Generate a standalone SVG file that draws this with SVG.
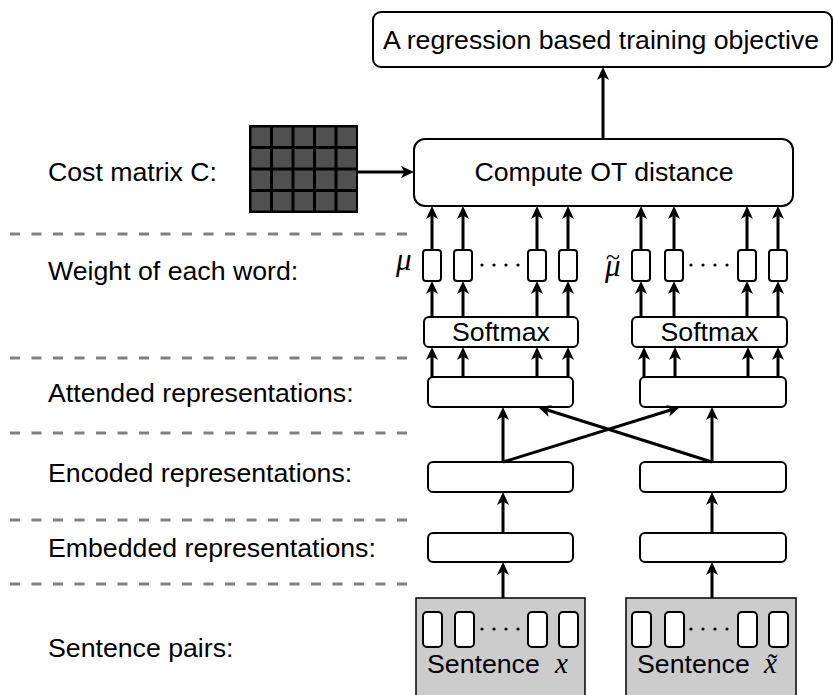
<svg xmlns="http://www.w3.org/2000/svg" width="834" height="695" viewBox="0 0 834 695">
<style>
.t{font-family:"Liberation Sans",Arial,sans-serif;font-size:26.7px;fill:#000}
.m{font-family:"Liberation Serif","DejaVu Serif",serif;font-style:italic;fill:#000}
.box{fill:#fff;stroke:#000;stroke-width:2}
.dash{stroke:#808080;stroke-width:3;stroke-dasharray:10 11.5;fill:none}
.c{stroke:#000;stroke-width:3;fill:none;marker-end:url(#ah)}
.cell{fill:#505050}
</style>
<defs>
<marker id="ah" markerUnits="userSpaceOnUse" markerWidth="13" markerHeight="12" refX="9" refY="6" orient="auto">
<path d="M0,0 L13,6 L0,12 L3.5,6 Z" fill="#000"/>
</marker>
</defs>
<rect width="834" height="695" fill="#fff"/>

<g id="separators">
<line class="dash" x1="10" y1="234" x2="415" y2="234"/>
<line class="dash" x1="10" y1="358" x2="415" y2="358"/>
<line class="dash" x1="10" y1="433" x2="415" y2="433"/>
<line class="dash" x1="10" y1="520" x2="415" y2="520"/>
<line class="dash" x1="10" y1="584" x2="415" y2="584"/>
</g>

<g id="labels">
<text class="t" x="48" y="181">Cost matrix C:</text>
<text class="t" x="48" y="280">Weight of each word:</text>
<text class="t" x="48" y="402">Attended representations:</text>
<text class="t" x="48" y="482">Encoded representations:</text>
<text class="t" x="48" y="557">Embedded representations:</text>
<text class="t" x="48" y="657">Sentence pairs:</text>
</g>

<g id="objective">
<rect class="box" x="373" y="12" width="459" height="55" rx="8"/>
<text class="t" x="601" y="49" text-anchor="middle">A regression based training objective</text>
</g>

<g id="ot">
<rect class="box" x="414" y="139" width="379" height="67" rx="11"/>
<text class="t" x="604" y="181" text-anchor="middle">Compute OT distance</text>
</g>

<g id="cost-matrix">
<rect x="249" y="125" width="109" height="88" fill="#000"/>
<g>
<rect class="cell" x="251.5" y="127.5" width="18.5" height="18.5"/><rect class="cell" x="273" y="127.5" width="18.5" height="18.5"/><rect class="cell" x="294.5" y="127.5" width="18.5" height="18.5"/><rect class="cell" x="316" y="127.5" width="18.5" height="18.5"/><rect class="cell" x="337.5" y="127.5" width="18.5" height="18.5"/>
<rect class="cell" x="251.5" y="149" width="18.5" height="18.5"/><rect class="cell" x="273" y="149" width="18.5" height="18.5"/><rect class="cell" x="294.5" y="149" width="18.5" height="18.5"/><rect class="cell" x="316" y="149" width="18.5" height="18.5"/><rect class="cell" x="337.5" y="149" width="18.5" height="18.5"/>
<rect class="cell" x="251.5" y="170.5" width="18.5" height="18.5"/><rect class="cell" x="273" y="170.5" width="18.5" height="18.5"/><rect class="cell" x="294.5" y="170.5" width="18.5" height="18.5"/><rect class="cell" x="316" y="170.5" width="18.5" height="18.5"/><rect class="cell" x="337.5" y="170.5" width="18.5" height="18.5"/>
<rect class="cell" x="251.5" y="192" width="18.5" height="18.5"/><rect class="cell" x="273" y="192" width="18.5" height="18.5"/><rect class="cell" x="294.5" y="192" width="18.5" height="18.5"/><rect class="cell" x="316" y="192" width="18.5" height="18.5"/><rect class="cell" x="337.5" y="192" width="18.5" height="18.5"/>
</g>
</g>

<g id="weights-left">
<text class="m" x="396" y="270" font-size="31">μ</text>
<rect class="box" x="423" y="250" width="18" height="31" rx="3"/>
<rect class="box" x="454" y="250" width="18" height="31" rx="3"/>
<rect class="box" x="528" y="250" width="18" height="31" rx="3"/>
<rect class="box" x="559" y="250" width="18" height="31" rx="3"/>
<g fill="#000"><circle cx="482" cy="265" r="1.6"/><circle cx="494" cy="265" r="1.6"/><circle cx="506" cy="265" r="1.6"/><circle cx="518" cy="265" r="1.6"/></g>
</g>

<g id="weights-right">
<text class="m" x="605" y="276" font-size="31">μ<tspan dx="-15" dy="-11" font-size="26">~</tspan></text>
<rect class="box" x="632" y="250" width="18" height="31" rx="3"/>
<rect class="box" x="665" y="250" width="18" height="31" rx="3"/>
<rect class="box" x="738" y="250" width="18" height="31" rx="3"/>
<rect class="box" x="769" y="250" width="18" height="31" rx="3"/>
<g fill="#000"><circle cx="691" cy="265" r="1.6"/><circle cx="703" cy="265" r="1.6"/><circle cx="715" cy="265" r="1.6"/><circle cx="727" cy="265" r="1.6"/></g>
</g>

<g id="softmax-left">
<rect class="box" x="424" y="317" width="154" height="30" rx="5"/>
<text class="t" x="501" y="341" text-anchor="middle">Softmax</text>
</g>
<g id="softmax-right">
<rect class="box" x="632" y="317" width="155" height="30" rx="5"/>
<text class="t" x="709.5" y="341" text-anchor="middle">Softmax</text>
</g>

<g id="attended-left"><rect class="box" x="428" y="377" width="145" height="30" rx="5"/></g>
<g id="attended-right"><rect class="box" x="640" y="377" width="146" height="30" rx="5"/></g>
<g id="encoded-left"><rect class="box" x="428" y="462" width="145" height="30" rx="5"/></g>
<g id="encoded-right"><rect class="box" x="640" y="462" width="146" height="30" rx="5"/></g>
<g id="embedded-left"><rect class="box" x="428" y="533" width="145" height="29" rx="5"/></g>
<g id="embedded-right"><rect class="box" x="640" y="533" width="146" height="29" rx="5"/></g>

<g id="sentence-left">
<rect x="416" y="598" width="169" height="110" fill="#cccccc" stroke="#000" stroke-width="1.5"/>
<rect class="box" x="423" y="612" width="19" height="35" rx="4"/>
<rect class="box" x="455" y="612" width="19" height="35" rx="4"/>
<rect class="box" x="528" y="612" width="19" height="35" rx="4"/>
<rect class="box" x="559" y="612" width="19" height="35" rx="4"/>
<g fill="#000"><circle cx="482" cy="629" r="1.6"/><circle cx="494" cy="629" r="1.6"/><circle cx="506" cy="629" r="1.6"/><circle cx="518" cy="629" r="1.6"/></g>
<text class="t" x="427" y="673">Sentence</text>
<text class="m" x="555" y="673" font-size="29">x</text>
</g>

<g id="sentence-right">
<rect x="626" y="598" width="170" height="110" fill="#cccccc" stroke="#000" stroke-width="1.5"/>
<rect class="box" x="632" y="612" width="19" height="35" rx="4"/>
<rect class="box" x="665" y="612" width="19" height="35" rx="4"/>
<rect class="box" x="738" y="612" width="19" height="35" rx="4"/>
<rect class="box" x="769" y="612" width="19" height="35" rx="4"/>
<g fill="#000"><circle cx="691" cy="629" r="1.6"/><circle cx="703" cy="629" r="1.6"/><circle cx="715" cy="629" r="1.6"/><circle cx="727" cy="629" r="1.6"/></g>
<text class="t" x="637" y="673">Sentence</text>
<text class="m" x="764" y="673" font-size="29">x̃</text>
</g>

<g id="connectors">
<line class="c" x1="603" y1="139" x2="603" y2="71"/>
<line class="c" x1="358" y1="172" x2="410" y2="172"/>
<line class="c" x1="432" y1="250" x2="432" y2="210"/>
<line class="c" x1="463" y1="250" x2="463" y2="210"/>
<line class="c" x1="537" y1="250" x2="537" y2="210"/>
<line class="c" x1="568" y1="250" x2="568" y2="210"/>
<line class="c" x1="641" y1="250" x2="641" y2="210"/>
<line class="c" x1="674" y1="250" x2="674" y2="210"/>
<line class="c" x1="747" y1="250" x2="747" y2="210"/>
<line class="c" x1="778" y1="250" x2="778" y2="210"/>
<line class="c" x1="432" y1="317" x2="432" y2="285"/>
<line class="c" x1="463" y1="317" x2="463" y2="285"/>
<line class="c" x1="537" y1="317" x2="537" y2="285"/>
<line class="c" x1="568" y1="317" x2="568" y2="285"/>
<line class="c" x1="641" y1="317" x2="641" y2="285"/>
<line class="c" x1="674" y1="317" x2="674" y2="285"/>
<line class="c" x1="747" y1="317" x2="747" y2="285"/>
<line class="c" x1="778" y1="317" x2="778" y2="285"/>
<line class="c" x1="432" y1="377" x2="432" y2="351"/>
<line class="c" x1="463" y1="377" x2="463" y2="351"/>
<line class="c" x1="537" y1="377" x2="537" y2="351"/>
<line class="c" x1="568" y1="377" x2="568" y2="351"/>
<line class="c" x1="644" y1="377" x2="644" y2="351"/>
<line class="c" x1="675" y1="377" x2="675" y2="351"/>
<line class="c" x1="748" y1="377" x2="748" y2="351"/>
<line class="c" x1="778" y1="377" x2="778" y2="351"/>
<line class="c" x1="503" y1="462" x2="503" y2="411"/>
<line class="c" x1="712" y1="462" x2="712" y2="411"/>
<line class="c" x1="503" y1="462" x2="676.2" y2="408.2"/>
<line class="c" x1="712" y1="462" x2="541.8" y2="408.2"/>
<line class="c" x1="503" y1="533" x2="503" y2="496"/>
<line class="c" x1="712" y1="533" x2="712" y2="496"/>
<line class="c" x1="503" y1="598" x2="503" y2="566"/>
<line class="c" x1="712" y1="598" x2="712" y2="566"/>
</g>
</svg>
